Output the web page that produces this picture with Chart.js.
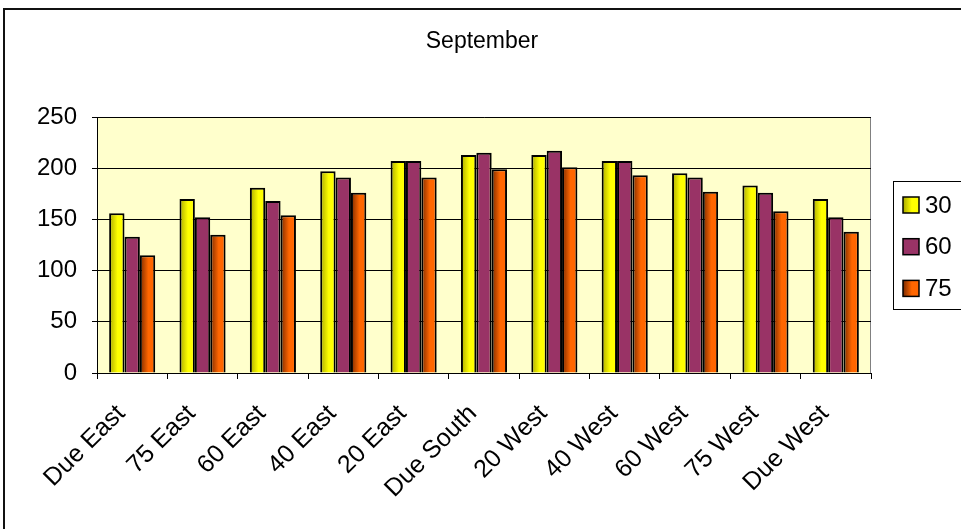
<!DOCTYPE html>
<html>
<head>
<meta charset="utf-8">
<script src="https://cdn.jsdelivr.net/npm/chart.js@4/dist/chart.umd.min.js"></script>
<style>
  html, body { margin: 0; padding: 0; background: #fff; }
  #wrap { width: 961px; height: 529px; }
</style>
</head>
<body>
<div id="wrap"><canvas id="c" width="961" height="529"></canvas></div>
<script>
// Orientations along the x axis
const categories = ["Due East", "75 East", "60 East", "40 East", "20 East", "Due South",
                    "20 West", "40 West", "60 West", "75 West", "Due West"];
// Series, one per tilt angle
const seriesNames = ["30", "60", "75"];
const tilt30 = [156, 170, 181, 197, 207, 213, 213, 207, 195, 183, 170];
const tilt60 = [133, 152, 168, 191, 207, 215, 217, 207, 191, 176, 152];
const tilt75 = [115, 135, 154, 176, 191, 199, 201, 193, 177, 158, 138];
// Value axis ticks
const yTicks = [0, 50, 100, 150, 200, 250];

const FONT = "'Liberation Sans', Arial, sans-serif";
const CAT_PCT = 0.655;

// Colours: [shaded left edge, full colour]
const fills = [
  ["#a8a800", "#ffff00"],
  ["#993366", "#993366"],
  ["#7a2a00", "#ff6600"]
];

function shade(ctx, x0, x1, pair) {
  const g = ctx.createLinearGradient(x0, 0, x1, 0);
  g.addColorStop(0, pair[0]);
  g.addColorStop(0.55, pair[1]);
  g.addColorStop(1, pair[1]);
  return g;
}

function barFill(idx) {
  return function (c) {
    const chart = c.chart;
    const area = chart.chartArea;
    if (!area || c.type !== 'data' || !chart.scales.x) return fills[idx][1];
    const xs = chart.scales.x;
    const center = xs.getPixelForValue(c.dataIndex);
    const catW = (area.right - area.left) / categories.length;
    const groupW = catW * CAT_PCT;
    const barW = groupW / 3;
    const left = center - groupW / 2 + idx * barW;
    return shade(chart.ctx, left, left + barW, fills[idx]);
  };
}

const frame = {
  id: 'frame',
  beforeDraw(chart) {
    const { ctx, chartArea: a } = chart;
    ctx.save();
    ctx.fillStyle = '#ffffff';
    ctx.fillRect(0, 0, chart.width, chart.height);
    ctx.fillStyle = '#ffffcc';
    ctx.fillRect(a.left, a.top, a.right - a.left, a.bottom - a.top);
    ctx.strokeStyle = '#808080';
    ctx.lineWidth = 1;
    ctx.strokeRect(a.left + 0.5, a.top + 0.5, a.right - a.left - 1, a.bottom - a.top);
    ctx.restore();
  },
  afterDraw(chart) {
    const { ctx } = chart;
    ctx.save();
    // outer border (runs off the right and bottom edges)
    ctx.strokeStyle = '#111';
    ctx.lineWidth = 2;
    ctx.strokeRect(4, 9, 970, 540);
    // title
    ctx.fillStyle = '#000';
    ctx.font = '23px ' + FONT;
    ctx.textAlign = 'center';
    ctx.textBaseline = 'middle';
    ctx.fillText('September', 482, 42);
    // legend
    const bx = 893, by = 181, bw = 80, bh = 128;
    ctx.fillStyle = '#fff';
    ctx.fillRect(bx, by, bw, bh);
    ctx.strokeStyle = '#000';
    ctx.lineWidth = 1;
    ctx.strokeRect(bx + 0.5, by + 0.5, bw, bh);
    ctx.textAlign = 'left';
    ctx.font = '24px ' + FONT;
    chart.data.datasets.forEach((ds, i) => {
      const cy = 205 + i * 41.7;
      const sx = 903, s = 16;
      ctx.fillStyle = shade(ctx, sx, sx + s, fills[i]);
      ctx.fillRect(sx, cy - s / 2, s, s);
      ctx.strokeStyle = '#000';
      ctx.lineWidth = 1.5;
      ctx.strokeRect(sx, cy - s / 2, s, s);
      ctx.fillStyle = '#000';
      ctx.fillText(ds.label, 925, cy + 1);
    });
    ctx.restore();
  }
};

const seriesValues = [tilt30, tilt60, tilt75];

new Chart(document.getElementById('c'), {
  type: 'bar',
  data: {
    labels: categories,
    datasets: seriesNames.map((name, i) => ({
      label: name,
      data: seriesValues[i],
      backgroundColor: barFill(i),
      borderColor: '#000',
      borderWidth: 2,
      categoryPercentage: CAT_PCT,
      barPercentage: 1.0
    }))
  },
  options: {
    responsive: false,
    animation: false,
    devicePixelRatio: 1,
    layout: { padding: { left: 0, top: 117, right: 90, bottom: 0 } },
    plugins: {
      legend: { display: false },
      title: { display: false },
      tooltip: { enabled: false }
    },
    scales: {
      x: {
        offset: true,
        grid: {
          offset: true,
          drawOnChartArea: false,
          drawTicks: true,
          tickLength: 6,
          color: '#000'
        },
        border: { color: '#000', width: 1 },
        ticks: {
          color: '#000',
          font: { family: FONT, size: 25 },
          maxRotation: 45,
          minRotation: 45,
          autoSkip: false,
          padding: 20,
          labelOffset: -11
        },
        afterFit(scale) { scale.height = 156; }
      },
      y: {
        min: 0,
        max: 250,
        afterBuildTicks(scale) { scale.ticks = yTicks.map(v => ({ value: v })); },
        grid: {
          color: '#000',
          lineWidth: 1,
          drawTicks: true,
          tickLength: 5
        },
        border: { color: '#000', width: 1 },
        ticks: {
          color: '#000',
          font: { family: FONT, size: 24 },
          padding: 15
        },
        afterFit(scale) { scale.width = 97; }
      }
    }
  },
  plugins: [frame]
});
</script>
</body>
</html>
